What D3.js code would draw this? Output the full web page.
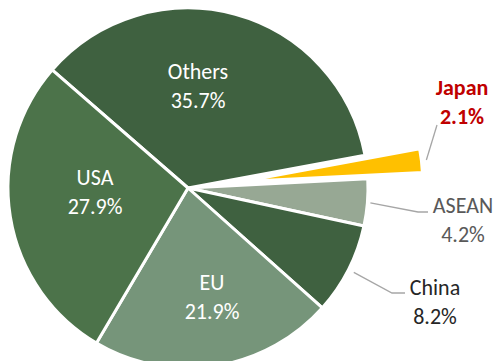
<!DOCTYPE html>
<html>
<head>
<meta charset="utf-8">
<script src="https://cdn.jsdelivr.net/npm/d3@7"></script>
<style>
  html, body { margin: 0; padding: 0; background: #ffffff; }
  svg { display: block; }
  text { font-family: Carlito, Lato, "Open Sans", sans-serif; }
</style>
</head>
<body>
<svg id="chart" width="498" height="361"></svg>
<script>
// Export share by destination (%)
const regions = ["Others", "Japan", "ASEAN", "China", "EU", "USA"];
const shares  = [35.7, 2.1, 4.2, 8.2, 21.9, 27.9];
const shareLabels = ["35.7%", "2.1%", "4.2%", "8.2%", "21.9%", "27.9%"];

const sliceColors = {
  Others: "#3f6140",
  Japan:  "#ffc000",
  ASEAN:  "#97a894",
  China:  "#3f6140",
  EU:     "#76957a",
  USA:    "#4c734a"
};

const W = 498, H = 361;
const cx = 188, cy = 188, R = 180;
const explodeBy = 55;           // Japan wedge pulled out from the pie
const startDeg = -49;
const fontSize = 22;

const svg = d3.select("#chart");
const g = svg.append("g").attr("transform", `translate(${cx},${cy})`);

const data = regions.map((r, i) => ({ name: r, value: shares[i], label: shareLabels[i] }));

const pie = d3.pie()
  .value(d => d.value)
  .sort(null)
  .startAngle(startDeg * Math.PI / 180)
  .endAngle((startDeg + 360) * Math.PI / 180);

const arc = d3.arc().innerRadius(0).outerRadius(R);
const arcs = pie(data);

const mid = a => (a.startAngle + a.endAngle) / 2;
const polar = (ang, r) => [r * Math.sin(ang), -r * Math.cos(ang)];

g.selectAll("path.slice")
  .data(arcs)
  .join("path")
  .attr("class", "slice")
  .attr("d", arc)
  .attr("fill", d => sliceColors[d.data.name])
  .attr("stroke", "#ffffff")
  .attr("stroke-width", 3)
  .attr("stroke-linejoin", "round")
  .attr("transform", d => {
    if (d.data.name !== "Japan") return null;
    const [dx, dy] = polar(mid(d), explodeBy);
    return `translate(${dx},${dy})`;
  });

// Labels inside the larger slices
const inside = {
  Others: [198, 79],
  USA:    [95, 185],
  EU:     [212, 290]
};
const lineGap = 29;

arcs.filter(d => inside[d.data.name]).forEach(d => {
  const [x, y] = inside[d.data.name];
  const t = svg.append("text")
    .attr("x", x).attr("y", y)
    .attr("text-anchor", "middle")
    .attr("fill", "#ffffff")
    .attr("font-size", fontSize);
  t.append("tspan").attr("x", x).text(d.data.name);
  t.append("tspan").attr("x", x).attr("dy", lineGap).text(d.data.label);
});

// Outside labels with leader lines
const outside = {
  Japan: { r0: 240, pts: [[437, 125]], text: [462, 95], color: "#c00000", bold: true },
  ASEAN: { r0: 183, pts: [[418, 212], [428, 212]], text: [463, 213], color: "#595959" },
  China: { r0: 186, pts: [[392, 293], [405, 293]], text: [435, 295], color: "#262626" }
};

arcs.filter(d => outside[d.data.name]).forEach(d => {
  const o = outside[d.data.name];
  const [sx, sy] = polar(mid(d), o.r0);
  const pts = [[cx + sx, cy + sy]].concat(o.pts);
  svg.append("path")
    .attr("d", d3.line()(pts))
    .attr("fill", "none")
    .attr("stroke", "#a6a6a6")
    .attr("stroke-width", 1.3);
  const [x, y] = o.text;
  const t = svg.append("text")
    .attr("x", x).attr("y", y)
    .attr("text-anchor", "middle")
    .attr("fill", o.color)
    .attr("font-size", fontSize)
    .attr("font-weight", o.bold ? "bold" : "normal");
  t.append("tspan").attr("x", x).text(d.data.name);
  t.append("tspan").attr("x", x).attr("dy", lineGap).text(d.data.label);
});
</script>
</body>
</html>
